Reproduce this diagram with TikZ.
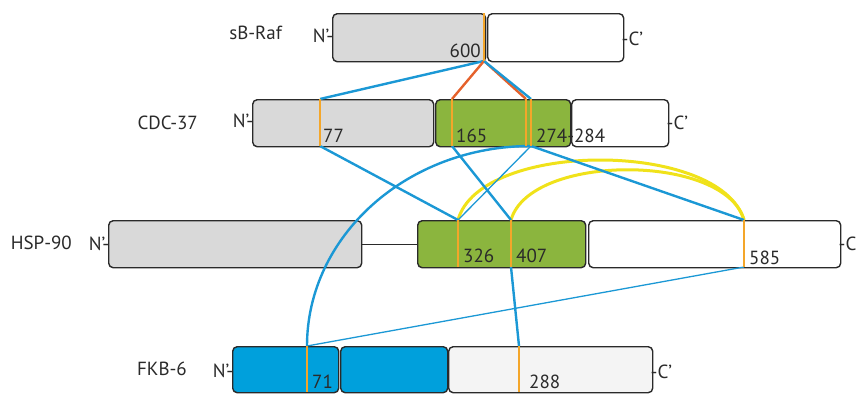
\documentclass[tikz,border=0pt]{standalone}
\usepackage{fontspec}
\setmainfont{PT Sans}
\definecolor{bordc}{HTML}{2A2A2A}
\definecolor{grayf}{HTML}{D9D9D9}
\definecolor{greenf}{HTML}{8BB53E}
\definecolor{bluef}{HTML}{00A0DC}
\definecolor{lightf}{HTML}{F4F4F4}
\definecolor{conblue}{HTML}{1B98D5}
\definecolor{barorange}{HTML}{F4A62A}
\definecolor{redline}{HTML}{E5612B}
\definecolor{yelarc}{HTML}{F0E21A}
\begin{document}
\begin{tikzpicture}[x=1pt,y=-1pt,
  font=\fontsize{19}{22}\selectfont,
  box/.style={draw=bordc, line width=1.4pt, rounded corners=4.5pt, inner sep=0pt, anchor=north west},
  lab/.style={inner sep=0pt, text=bordc},
  conn/.style={draw=conblue, line width=2.4pt},
  connthin/.style={draw=conblue, line width=1.3pt},
  redc/.style={draw=redline, line width=2.4pt},
  yel/.style={draw=yelarc, line width=3pt},
  bar/.style={draw=barorange, line width=2.8pt},
  linker/.style={draw=bordc, line width=1.4pt}]
\useasboundingbox (0,0) rectangle (856,394);

% boxes
\node[box, fill=grayf, minimum width=153pt, minimum height=48pt] (raf1) at (332,13) {};
\node[box, fill=white, minimum width=136pt, minimum height=48pt] (raf2) at (487,13) {};
\node[box, fill=grayf, minimum width=181pt, minimum height=47pt] (cdc1) at (252,99) {};
\node[box, fill=greenf, minimum width=135pt, minimum height=47pt] (cdc2) at (435,99) {};
\node[box, fill=white, minimum width=97pt, minimum height=47pt] (cdc3) at (571,99) {};
\node[box, fill=grayf, minimum width=253pt, minimum height=47pt] (hsp1) at (108,220) {};
\node[box, fill=greenf, minimum width=168pt, minimum height=47pt] (hsp2) at (417,220) {};
\node[box, fill=white, minimum width=252pt, minimum height=47pt] (hsp3) at (588,220) {};
\node[box, fill=bluef, minimum width=106pt, minimum height=46pt] (fkb1) at (232,346) {};
\node[box, fill=bluef, minimum width=107pt, minimum height=46pt] (fkb2) at (340,346) {};
\node[box, fill=lightf, minimum width=204pt, minimum height=46pt] (fkb3) at (448,346) {};
\draw[linker] (hsp1.east) -- (hsp2.west);

% bar end points
\coordinate (r600t) at (484,13);  \coordinate (r600b) at (484,61);
\coordinate (c77t) at (320,99);   \coordinate (c77b) at (320,146);
\coordinate (c165t) at (452,99);  \coordinate (c165b) at (452,146);
\coordinate (c274at) at (526,99); \coordinate (c274ab) at (526,146);
\coordinate (c274bt) at (531,99); \coordinate (c274bb) at (531,146);
\coordinate (h326t) at (458,220); \coordinate (h326b) at (458,267);
\coordinate (h407t) at (511,220); \coordinate (h407b) at (511,267);
\coordinate (h585t) at (744,220); \coordinate (h585b) at (744,267);
\coordinate (f71t) at (307,346);  \coordinate (f71b) at (307,392);
\coordinate (f288t) at (519,346); \coordinate (f288b) at (519,392);

% connectors
\draw[yel] (h326t) .. controls (480,140) and (720,140) .. (h585t);
\draw[yel] (h407t) .. controls (530,153) and (725,153) .. (h585t);
\draw[conn] (r600b) -- (c77t);
\draw[redc] (r600b) -- (c165t);
\draw[redc] (r600b) -- (c274at);
\draw[conn] (r600b) -- (c274bt);
\draw[conn] (c77b) -- (h326t);
\draw[conn] (c165b) -- (h407t);
\draw[connthin] (c274bb) -- (h326t);
\draw[conn] (c274bb) -- (h585t);
\draw[conn] (c274bb) .. controls +(-124,0) and +(0,-110) .. (f71t);
\draw[conn] (h407b) -- (f288t);
\draw[connthin] (h585b) -- (f71t);

% orange bars
\draw[bar] (r600t) -- (r600b);
\draw[bar] (c77t) -- (c77b);
\draw[bar] (c165t) -- (c165b);
\draw[bar] (c274at) -- (c274ab);
\draw[bar] (c274bt) -- (c274bb);
\draw[bar] (h326t) -- (h326b);
\draw[bar] (h407t) -- (h407b);
\draw[bar] (h585t) -- (h585b);
\draw[bar] (f71t) -- (f71b);
\draw[bar] (f288t) -- (f288b);

% protein names
\node[lab, anchor=base east] (tRaf) at (282,39) {sB-Raf};
\node[lab, anchor=base east] (tCdc) at (198,129) {CDC-37};
\node[lab, anchor=base east] (tHsp) at (72,249) {HSP-90};
\node[lab, anchor=base east] (tFkb) at (187,375) {FKB-6};

% termini
\node[lab, anchor=base east] (nRaf) at (333.5,42) {N’-};
\node[lab, anchor=base east] (nCdc) at (253.5,127) {N’-};
\node[lab, anchor=base east] (nHsp) at (109.5,250) {N’-};
\node[lab, anchor=base east] (nFkb) at (233.5,377) {N’-};
\node[lab, anchor=base west] (cRaf) at (621.5,45) {-C’};
\node[lab, anchor=base west] (cCdc) at (666.5,129) {-C’};
\node[lab, anchor=base west] (cHsp) at (838.5,250) {-C’};
\node[lab, anchor=base west] (cFkb) at (650.5,378) {-C’};

% residue numbers
\node[lab, anchor=base east] (n600) at (481,57) {600};
\node[lab, anchor=base west] (n77) at (323,142) {77};
\node[lab, anchor=base west] (n165) at (456,142) {165};
\node[lab, anchor=base west] (n274) at (536,142) {274-284};
\node[lab, anchor=base west] (n326) at (463,262) {326};
\node[lab, anchor=base west] (n407) at (516,262) {407};
\node[lab, anchor=base west] (n585) at (749,264) {585};
\node[lab, anchor=base west] (n71) at (312,388) {71};
\node[lab, anchor=base west] (n288) at (529,388) {288};
\end{tikzpicture}
\end{document}
